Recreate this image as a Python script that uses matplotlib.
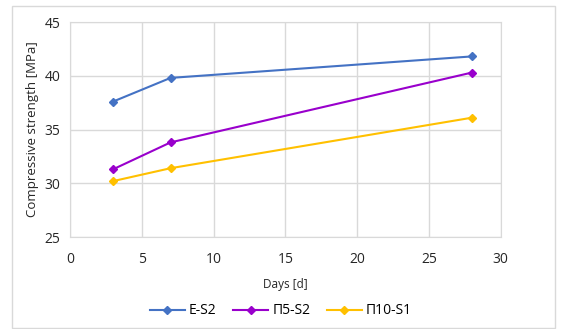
import matplotlib.pyplot as plt
from matplotlib.patches import Rectangle

plt.rcParams['font.family'] = ['Open Sans', 'DejaVu Sans']

days = [3, 7, 28]
e_s2 = [37.6, 39.8, 41.8]
p5_s2 = [31.3, 33.8, 40.3]
p10_s1 = [30.2, 31.4, 36.1]
labels = ['E-S2', 'П5-S2', 'П10-S1']
colors = ['#4472C4', '#9900CC', '#FFC000']

fig = plt.figure(figsize=(5.62, 3.29), dpi=100)
ax = fig.add_axes([0.1246, 0.2796, 0.7664, 0.6535])

for serie, lab, col in zip([e_s2, p5_s2, p10_s1], labels, colors):
    ax.plot(days, serie, color=col, marker='D', markersize=4, linewidth=1.5, label=lab)

ax.set_xlim(0, 30)
ax.set_ylim(25, 45)
ax.set_xticks(range(0, 31, 5))
ax.set_yticks(range(25, 46, 5))
ax.grid(True, color='#D9D9D9', linewidth=1)
ax.set_axisbelow(True)
for s in ax.spines.values():
    s.set_color('#D9D9D9')
ax.tick_params(length=0, labelsize=10, colors='#262626')
ax.tick_params(axis='x', pad=11)
ax.tick_params(axis='y', pad=7)
ax.set_xlabel('Days [d]', fontsize=8.5, color='#262626', labelpad=8)
ax.set_ylabel('Compressive strength [MPa]', fontsize=9.5, color='#262626')

ax.legend(loc='center', bbox_to_anchor=(0.5, 0.055), bbox_transform=fig.transFigure,
          ncol=3, frameon=False, fontsize=10, handlelength=2.5, columnspacing=1.2,
          handletextpad=0.3)

# marco exterior del grafico
fig.patches.append(Rectangle((0.021, 0.003), 0.967, 0.98, transform=fig.transFigure,
                             fill=False, edgecolor='#D9D9D9', linewidth=1))

fig.savefig('out.png', dpi=100)
